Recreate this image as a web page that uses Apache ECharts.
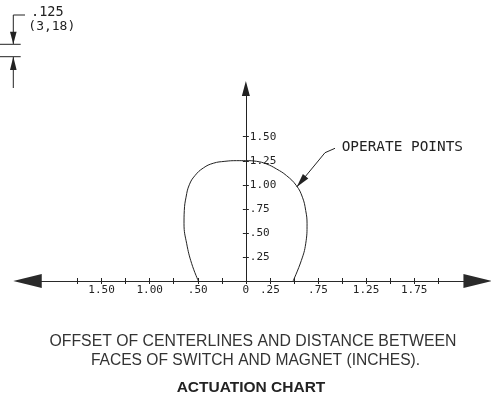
<!DOCTYPE html>
<html lang="en">
<head>
    <meta charset="UTF-8">
    <title>Actuation chart</title>
    <style>
        html, body { margin: 0; padding: 0; background: #fff; }
        #chart { width: 491px; height: 402px; }
    </style>
</head>
<body>
<div id="chart"></div>
<script src="https://cdn.jsdelivr.net/npm/echarts@6/dist/echarts.min.js"></script>
<script>
    // tick positions (inches) along each axis
    var xTicks = [-1.75, -1.5, -1.25, -1, -0.75, -0.5, -0.25, 0, 0.25, 0.5, 0.75, 1, 1.25, 1.5, 1.75, 2];
    var xLabels = [-1.5, -1, -0.5, 0, 0.25, 0.75, 1.25, 1.75];
    var yTicks = [0.25, 0.5, 0.75, 1, 1.25, 1.5];

    // operate points curve (offset, distance)
    var curveX = [-0.494, -0.563, -0.615, -0.643, -0.64, -0.622, -0.588, -0.529, -0.442, -0.339, -0.218, -0.097, 0,
        0.11, 0.214, 0.318, 0.422, 0.525, 0.588, 0.622, 0.636, 0.622, 0.577, 0.491];
    var curveY = [0, 0.18, 0.387, 0.595, 0.733, 0.871, 1.0, 1.096, 1.175, 1.224, 1.244, 1.251, 1.251,
        1.244, 1.217, 1.165, 1.096, 0.992, 0.871, 0.733, 0.595, 0.387, 0.214, 0];

    var ink = '#222';
    var mono = '"DejaVu Sans Mono", monospace';
    var sans = '"Liberation Sans", Arial, sans-serif';

    var xMin = -2.27, xMax = 2.41;
    var gridLeft = 27.5, gridRight = 13.3;
    // shift the y axis from the grid's left edge to x = 0
    var yShift = -(491 - gridLeft - gridRight) * (0 - xMin) / (xMax - xMin);

    function fmt(v) {
        v = Math.abs(v);
        if (v === 0) return '0';
        var s = v.toFixed(2);
        return v < 1 ? s.slice(1) : s;
    }

    var points = curveX.map(function (x, i) { return [x, curveY[i]]; });

    var chart = echarts.init(document.getElementById('chart'));

    var option = {
        animation: false,
        grid: { left: gridLeft, right: gridRight, top: 88.6, bottom: 121, containLabel: false, outerBoundsMode: 'none' },
        xAxis: [{
            type: 'value', min: xMin, max: xMax, position: 'bottom',
            axisLine: { show: true, onZero: false, symbol: ['triangle', 'triangle'], symbolSize: [14, 28.5],
                lineStyle: { color: '#2a2a2a', width: 1 } },
            axisTick: { show: true, inside: false, length: 3, customValues: xTicks, lineStyle: { color: ink } },
            axisLabel: { show: true, margin: 4, customValues: xLabels, formatter: fmt,
                fontFamily: mono, fontSize: 11, color: ink },
            splitLine: { show: false }
        }, {
            type: 'value', min: xMin, max: xMax, position: 'bottom',
            axisLine: { show: false, onZero: false },
            axisTick: { show: true, inside: true, length: 3, customValues: xTicks, lineStyle: { color: ink } },
            axisLabel: { show: false },
            splitLine: { show: false }
        }],
        yAxis: [{
            type: 'value', min: 0, max: 2, position: 'left', offset: yShift,
            axisLine: { show: true, onZero: false, symbol: ['none', 'triangle'], symbolSize: [8, 15],
                lineStyle: { color: ink, width: 1 } },
            axisTick: { show: true, inside: false, length: 3, customValues: yTicks, lineStyle: { color: ink } },
            axisLabel: { show: true, inside: true, margin: 4, customValues: yTicks, formatter: fmt,
                fontFamily: mono, fontSize: 11, color: ink },
            splitLine: { show: false }
        }, {
            type: 'value', min: 0, max: 2, position: 'left', offset: yShift,
            axisLine: { show: false, onZero: false },
            axisTick: { show: true, inside: true, length: 3, customValues: yTicks, lineStyle: { color: ink } },
            axisLabel: { show: false },
            splitLine: { show: false }
        }],
        series: [{
            name: 'Operate points',
            type: 'line',
            xAxisIndex: 0,
            yAxisIndex: 0,
            data: points,
            smooth: 0.45,
            showSymbol: false,
            symbol: 'none',
            lineStyle: { color: ink, width: 1 }
        }],
        graphic: [
            // leader to the curve
            { type: 'polyline', shape: { points: [[296.7, 187], [325, 152.7], [335, 148.3]] },
                style: { stroke: ink, lineWidth: 1, fill: null } },
            { type: 'polygon', shape: { points: [[296.7, 187], [308.3, 178.4], [302.9, 174.0]] },
                style: { fill: ink } },
            { type: 'text', left: 341.7, top: 140.3,
                style: { text: 'OPERATE POINTS', font: '14.4px ' + mono, fill: ink } },

            // .125 gap dimension, top left
            { type: 'polyline', shape: { points: [[25, 15], [13.3, 15], [13.3, 44]] },
                style: { stroke: ink, lineWidth: 1, fill: null } },
            { type: 'polygon', shape: { points: [[13.3, 44.3], [10, 31.7], [16.6, 31.7]] }, style: { fill: ink } },
            { type: 'line', shape: { x1: 0, y1: 44.3, x2: 20.7, y2: 44.3 }, style: { stroke: ink, lineWidth: 1 } },
            { type: 'line', shape: { x1: 0, y1: 56.7, x2: 20.7, y2: 56.7 }, style: { stroke: ink, lineWidth: 1 } },
            { type: 'polygon', shape: { points: [[13.3, 56.7], [10, 70], [16.6, 70]] }, style: { fill: ink } },
            { type: 'line', shape: { x1: 13.3, y1: 57, x2: 13.3, y2: 88 }, style: { stroke: ink, lineWidth: 1 } },
            { type: 'text', left: 31, top: 5.5,
                style: { text: '.125', font: '13.5px ' + mono, fill: ink } },
            { type: 'text', left: 28.3, top: 20.5,
                style: { text: '(3,18)', font: '13px ' + mono, fill: ink } },

            // captions
            { type: 'text', x: 253, y: 342,
                style: { text: 'OFFSET OF CENTERLINES AND DISTANCE BETWEEN', font: '15.8px ' + sans,
                    fill: '#333', textAlign: 'center', textVerticalAlign: 'middle' } },
            { type: 'text', x: 255.5, y: 360.7,
                style: { text: 'FACES OF SWITCH AND MAGNET (INCHES).', font: '15.6px ' + sans,
                    fill: '#333', textAlign: 'center', textVerticalAlign: 'middle' } },
            { type: 'text', x: 251, y: 388,
                style: { text: 'ACTUATION CHART', font: 'bold 15.5px ' + sans,
                    fill: '#222', textAlign: 'center', textVerticalAlign: 'middle' } }
        ]
    };

    chart.setOption(option);
</script>
</body>
</html>
